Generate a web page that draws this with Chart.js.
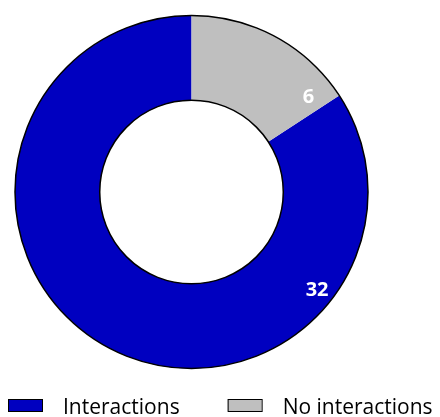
<!DOCTYPE html>
<html>
<head>
<meta charset="utf-8">
<script src="https://cdn.jsdelivr.net/npm/chart.js@4/dist/chart.umd.min.js"></script>
<style>
  html, body { margin: 0; padding: 0; background: #ffffff; }
  #wrap { width: 440px; height: 417px; position: relative; }
</style>
</head>
<body>
<div id="wrap"><canvas id="c" width="440" height="417"></canvas></div>
<script>
// Categories and counts
const categories = ['Interactions', 'No interactions'];
const counts = [32, 6];
const sliceColors = ['#0000C0', '#BFBFBF'];

const total = counts.reduce((a, b) => a + b, 0);
// Start the first slice so that the last one ends at 12 o'clock
const rotationDeg = 360 * counts[counts.length - 1] / total;

// Value labels: position along each slice (fraction of its sweep) and across the ring
const labelSpots = [
  { along: 0.235, across: 0.80 },
  { along: 0.90, across: 0.69 }
];

const FONT = '"Open Sans", "Liberation Sans", sans-serif';

const ringOutline = {
  id: 'ringOutline',
  afterDatasetsDraw(chart) {
    const arcs = chart.getDatasetMeta(0).data;
    if (!arcs.length) return;
    const a = arcs[0];
    const ctx = chart.ctx;
    ctx.save();
    ctx.strokeStyle = '#000000';
    ctx.lineWidth = 1.5;
    ctx.beginPath();
    ctx.arc(a.x, a.y, a.outerRadius, 0, Math.PI * 2);
    ctx.stroke();
    ctx.beginPath();
    ctx.arc(a.x, a.y, a.innerRadius, 0, Math.PI * 2);
    ctx.stroke();
    ctx.restore();
  }
};

const valueLabels = {
  id: 'valueLabels',
  afterDatasetsDraw(chart) {
    const arcs = chart.getDatasetMeta(0).data;
    const ctx = chart.ctx;
    ctx.save();
    ctx.fillStyle = '#ffffff';
    ctx.font = 'bold 20px ' + FONT;
    ctx.textAlign = 'center';
    ctx.textBaseline = 'middle';
    arcs.forEach((arc, i) => {
      const spot = labelSpots[i];
      const ang = arc.startAngle + spot.along * (arc.endAngle - arc.startAngle);
      const r = arc.innerRadius + spot.across * (arc.outerRadius - arc.innerRadius);
      ctx.fillText(String(counts[i]), arc.x + r * Math.cos(ang), arc.y + r * Math.sin(ang));
    });
    ctx.restore();
  }
};

const bottomLegend = {
  id: 'bottomLegend',
  afterDraw(chart) {
    const ctx = chart.ctx;
    ctx.save();
    ctx.font = '21px ' + FONT;
    ctx.textBaseline = 'alphabetic';
    const boxW = 34, boxH = 12, gap = 21, itemGap = 48;
    let x = 8;
    categories.forEach((t, i) => {
      ctx.fillStyle = sliceColors[i];
      ctx.fillRect(x, 399, boxW, boxH);
      ctx.strokeStyle = '#000000';
      ctx.lineWidth = 1;
      ctx.strokeRect(x + 0.5, 399.5, boxW, boxH);
      ctx.fillStyle = '#000000';
      ctx.fillText(t, x + boxW + gap, 414);
      x += boxW + gap + ctx.measureText(t).width + itemGap;
    });
    ctx.restore();
  }
};

new Chart(document.getElementById('c'), {
  type: 'doughnut',
  data: {
    labels: categories,
    datasets: [{
      data: counts,
      backgroundColor: sliceColors,
      borderWidth: 0
    }]
  },
  options: {
    responsive: false,
    animation: false,
    rotation: rotationDeg,
    cutout: '52%',
    layout: { padding: { left: 15, right: 72, top: 15.5, bottom: 48.5 } },
    plugins: {
      legend: { display: false },
      tooltip: { enabled: false }
    }
  },
  plugins: [ringOutline, valueLabels, bottomLegend]
});
</script>
</body>
</html>
